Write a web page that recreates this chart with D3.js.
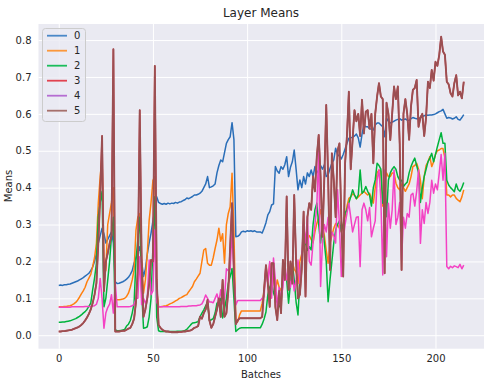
<!DOCTYPE html>
<html><head><meta charset="utf-8">
<script src="https://cdn.jsdelivr.net/npm/d3@7"></script>
<style>body{margin:0;background:#fff}text{font-family:"DejaVu Sans",sans-serif;fill:#262626}</style>
</head><body><svg id="c" width="496" height="387"></svg>
<script>
const seriesNames = ["0","1","2","3","4","5"];
const xTicks = [0,50,100,150,200];
const yTicks = [0,0.1,0.2,0.3,0.4,0.5,0.6,0.7,0.8];

const series0 = [
.135,.136,.135,.137,.137,.138,.139,.141,.143,.145,
.147,.15,.153,.156,.16,.164,.168,.175,.185,.2,
.222,.25,.27,.29,.275,.25,.26,.27,.28,.25,
.145,.14,.141,.143,.145,.148,.152,.157,.165,.175,
.196,.21,.225,.24,.2,.159,.18,.22,.25,.277,
.31,.34,.375,.36,.357,.355,.357,.355,.358,.356,
.358,.357,.36,.358,.361,.362,.365,.367,.372,.37,
.373,.376,.38,.38,.382,.385,.39,.4,.41,.43,
.4,.402,.405,.41,.44,.46,.475,.47,.495,.52,
.53,.538,.576,.53,.267,.268,.272,.28,.282,.28,
.283,.282,.283,.281,.283,.28,.28,.28,.277,.29,
.305,.326,.335,.353,.356,.457,.445,.439,.457,.45,
.462,.484,.43,.455,.47,.502,.45,.394,.421,.40,
.43,.41,.44,.43,.448,.43,.457,.44,.448,.46,
.45,.462,.43,.435,.452,.466,.475,.507,.49,.485,
.478,.49,.505,.52,.534,.535,.537,.54,.545,.535,
.51,.545,.57,.565,.565,.56,.558,.556,.57,.575,
.575,.57,.565,.538,.588,.58,.575,.578,.58,.583,
.585,.587,.583,.585,.586,.583,.582,.587,.59,.588,
.587,.586,.59,.593,.595,.597,.596,.597,.597,.598,
.6,.603,.606,.608,.612,.6,.588,.59,.589,.586,
.588,.592,.585,.583,.59,.598];

const series1 = [
.077,.077,.077,.078,.078,.079,.08,.082,.085,.089,
.095,.103,.112,.12,.13,.145,.155,.165,.186,.21,
.249,.358,.43,.484,.2,.175,.3,.33,.36,.4,
.098,.096,.096,.097,.098,.1,.105,.114,.13,.15,
.177,.285,.32,.33,.2,.114,.15,.22,.312,.36,
.42,.43,.12,.077,.077,.078,.079,.08,.082,.085,
.087,.09,.093,.096,.1,.102,.105,.108,.11,.118,
.125,.132,.145,.152,.16,.168,.2,.231,.235,.195,
.19,.19,.21,.235,.258,.29,.255,.275,.195,.3,
.33,.348,.439,.28,.033,.037,.055,.066,.066,.066,
.066,.066,.066,.066,.066,.066,.066,.066,.087,.12,
.177,.15,.195,.14,.16,.12,.15,.13,.12,.15,
.17,.15,.16,.17,.195,.18,.17,.14,.2,.22,
.24,.25,.267,.27,.26,.25,.28,.303,.32,.34,
.3,.27,.23,.195,.25,.27,.29,.303,.3,.29,
.28,.3,.32,.35,.371,.375,.383,.38,.37,.375,
.38,.385,.39,.385,.38,.385,.37,.358,.4,.44,
.448,.445,.35,.42,.44,.43,.43,.44,.44,.412,
.4,.394,.41,.4,.39,.4,.41,.43,.457,.46,
.466,.45,.42,.37,.43,.46,.47,.484,.457,.47,
.49,.5,.502,.506,.506,.48,.38,.38,.375,.38,
.38,.371,.366,.362,.375,.394];

const series2 = [
.035,.035,.036,.036,.037,.038,.039,.041,.043,.045,
.048,.051,.055,.06,.064,.07,.078,.087,.123,.155,
.195,.321,.36,.39,.077,.1,.15,.2,.27,.32,
.015,.012,.012,.013,.014,.016,.025,.03,.04,.06,
.087,.204,.26,.32,.123,.019,.02,.023,.05,.1,
.24,.375,.05,.012,.01,.01,.01,.01,.01,.01,
.01,.01,.01,.011,.011,.011,.011,.013,.016,.022,
.028,.033,.034,.035,.037,.05,.06,.069,.08,.087,
.04,.042,.045,.06,.087,.09,.1,.047,.07,.1,
.14,.159,.181,.1,.01,.015,.019,.02,.02,.02,
.02,.02,.02,.02,.02,.02,.02,.02,.03,.044,
.063,.11,.13,.141,.115,.1,.09,.077,.085,.15,
.177,.15,.087,.14,.195,.15,.09,.055,.15,.2,
.276,.25,.23,.24,.231,.3,.34,.358,.3,.25,
.3,.25,.2,.091,.15,.2,.25,.285,.3,.31,
.28,.3,.331,.34,.358,.375,.394,.38,.37,.38,
.448,.385,.39,.403,.39,.38,.35,.4,.421,.466,
.46,.45,.358,.42,.321,.42,.44,.45,.457,.45,
.43,.42,.42,.403,.41,.415,.44,.457,.47,.48,
.46,.44,.36,.4,.43,.45,.47,.48,.493,.47,
.49,.511,.53,.549,.52,.52,.42,.407,.4,.395,
.389,.41,.395,.39,.4,.414];

const series4 = [
.076,.076,.076,.076,.076,.076,.076,.077,.077,.077,
.077,.077,.077,.077,.078,.078,.078,.078,.079,.08,
.084,.1,.154,.1,.019,.06,.075,.084,.11,.06,
.141,.077,.077,.077,.077,.077,.077,.077,.078,.08,
.083,.1,.1,.213,.083,.1,.087,.1,.204,.11,
.12,.285,.09,.077,.077,.077,.077,.077,.077,.077,
.077,.077,.077,.077,.077,.078,.078,.078,.078,.079,
.079,.08,.08,.08,.081,.082,.085,.095,.109,.1,
.09,.09,.088,.1,.112,.09,.123,.085,.1,.18,
.175,.177,.285,.17,.082,.094,.094,.094,.094,.094,
.094,.094,.094,.094,.094,.094,.094,.094,.1,.105,
.186,.14,.2,.1,.209,.15,.076,.13,.1,.13,
.195,.15,.17,.13,.17,.12,.15,.204,.14,.2,
.303,.25,.321,.2,.19,.25,.3,.35,.502,.132,
.25,.3,.28,.32,.25,.28,.27,.25,.394,.3,
.159,.26,.3,.33,.358,.32,.28,.3,.32,.321,
.186,.34,.358,.34,.31,.346,.267,.29,.31,.421,
.448,.37,.163,.448,.213,.358,.29,.34,.448,.3,
.32,.36,.204,.32,.29,.33,.32,.38,.385,.35,
.39,.448,.249,.34,.303,.36,.33,.36,.42,.385,
.41,.394,.44,.49,.42,.493,.186,.18,.187,.183,
.188,.186,.183,.192,.18,.19];

const series5 = [
.01,.01,.011,.011,.012,.013,.014,.015,.017,.019,
.021,.024,.028,.033,.04,.048,.058,.07,.087,.11,
.141,.25,.38,.54,.12,.2,.222,.249,.27,.775,
.01,.01,.01,.011,.012,.012,.015,.018,.02,.03,
.045,.09,.18,.61,.2,.05,.07,.1,.14,.204,
.2,.73,.15,.028,.02,.015,.012,.01,.01,.009,
.008,.008,.008,.008,.009,.009,.01,.01,.011,.012,
.013,.016,.02,.022,.025,.05,.045,.06,.07,.096,
.04,.02,.03,.05,.07,.1,.05,.15,.05,.06,
.12,.24,.358,.17,.03,.04,.046,.046,.046,.046,
.046,.046,.046,.046,.046,.046,.046,.046,.05,.123,
.19,.14,.077,.195,.195,.077,.041,.12,.06,.204,
.15,.376,.123,.2,.14,.38,.2,.1,.11,.18,
.335,.105,.32,.358,.34,.43,.39,.484,.543,.43,
.267,.43,.624,.43,.177,.493,.42,.32,.5,.52,
.32,.159,.466,.54,.66,.45,.53,.61,.58,.6,
.54,.638,.547,.606,.61,.56,.6,.466,.6,.647,
.683,.647,.64,.168,.63,.6,.529,.6,.674,.64,
.674,.52,.177,.6,.64,.6,.53,.62,.665,.67,
.692,.565,.59,.6,.54,.59,.687,.67,.719,.69,
.741,.73,.76,.809,.769,.76,.687,.68,.656,.647,
.683,.705,.65,.66,.642,.687];

const series3 = series5.slice();

const allSeries = [series0, series1, series2, series3, series4, series5];
const lineColors = ["#2a6eb8","#ff7f0e","#00b33c","#d8303c","#f442c4","#9b4f52"];
const legendColors = ["#4a88c8","#fb983c","#1bbd5c","#e14350","#b56dd2","#a6706c"];

const svg = d3.select("#c");
const L = 38.5, R = 484, T = 24, B = 348.7;
const x = d3.scaleLinear().domain([-10.75, 225.75]).range([L, R]);
const y = d3.scaleLinear().domain([-0.0365, 0.8435]).range([B, T]);

svg.append("rect").attr("x", L).attr("y", T).attr("width", R - L).attr("height", B - T).attr("fill", "#eaeaf2");

const gx = svg.append("g").attr("transform", `translate(0,${B})`)
  .call(d3.axisBottom(x).tickValues(xTicks).tickSize(-(B - T)).tickPadding(6).tickFormat(d3.format("d")));
const gy = svg.append("g").attr("transform", `translate(${L},0)`)
  .call(d3.axisLeft(y).tickValues(yTicks).tickSize(-(R - L)).tickPadding(7).tickFormat(d3.format(".1f")));
[gx, gy].forEach(g => {
  g.select(".domain").remove();
  g.selectAll(".tick line").attr("stroke", "#ffffff").attr("stroke-width", 1);
  g.selectAll(".tick text").attr("font-size", 10).attr("fill", "#262626").style("font-family", '"DejaVu Sans",sans-serif');
});

const clip = svg.append("clipPath").attr("id", "pc").append("rect")
  .attr("x", L).attr("y", T).attr("width", R - L).attr("height", B - T);

const line = d3.line().x((d, i) => x(i)).y(d => y(d));
const plot = svg.append("g").attr("clip-path", "url(#pc)");
allSeries.forEach((s, k) => {
  plot.append("path").datum(s).attr("d", line).attr("fill", "none")
    .attr("stroke", lineColors[k]).attr("stroke-width", k === 5 ? 1.9 : 1.5)
    .attr("stroke-linejoin", "round");
});

// legend
const lg = svg.append("g");
lg.append("rect").attr("x", 42.5).attr("y", 28.5).attr("width", 43).attr("height", 93).attr("rx", 3)
  .attr("fill", "#eaeaf2").attr("fill-opacity", 0.8).attr("stroke", "#cccccc").attr("stroke-width", 1);
seriesNames.forEach((n, k) => {
  const yy = 35.7 + k * 15;
  lg.append("line").attr("x1", 47).attr("x2", 67).attr("y1", yy).attr("y2", yy)
    .attr("stroke", legendColors[k]).attr("stroke-width", 1.8);
  lg.append("text").attr("x", 74).attr("y", yy + 3.6).attr("font-size", 10).text(n);
});

svg.append("text").attr("x", 261).attr("y", 17).attr("text-anchor", "middle").attr("font-size", 12).text("Layer Means");
svg.append("text").attr("x", 261).attr("y", 378).attr("text-anchor", "middle").attr("font-size", 10).text("Batches");
svg.append("text").attr("transform", "translate(12,186) rotate(-90)").attr("text-anchor", "middle").attr("font-size", 10).text("Means");
</script></body></html>
